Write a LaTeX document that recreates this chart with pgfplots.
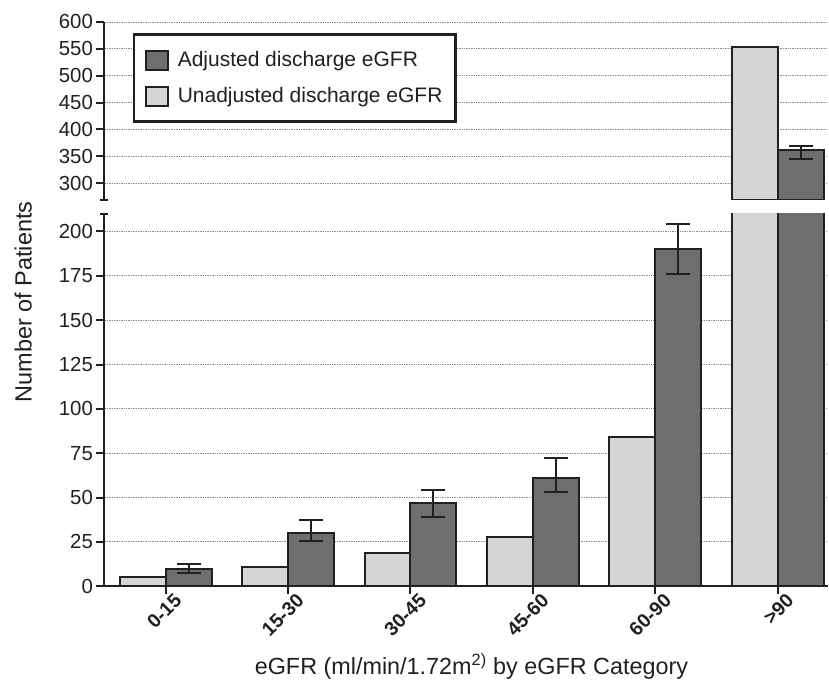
\documentclass[border=0pt]{standalone}
\usepackage{fontspec}
\setmainfont{Liberation Sans}
\usepackage{pgfplots}
\pgfplotsset{compat=1.18}

\definecolor{ink}{HTML}{231F20}
\definecolor{lightbar}{HTML}{D3D4D6}
\definecolor{darkbar}{HTML}{6D6E70}
\definecolor{gridgray}{HTML}{8A8A8A}

% unadjusted discharge eGFR counts per category
\pgfplotstableread{
x y
0 5
1 11
2 19
3 28
4 84
5 553
}\unadjusted

% adjusted discharge eGFR counts with asymmetric error ranges
\pgfplotstableread{
x y ep em
0 10 2.3 2.5
1 30 7.5 4.2
2 47 7 8
3 61 11.5 8
4 190 14 14
5 361 8.5 16
}\adjusted

\pgfplotsset{
  brokenbase/.style={
    scale only axis,
    width=724.5pt,
    xmin=-0.5, xmax=5.41,
    ybar=0pt, bar width=46pt,
    axis y line*=left,
    axis line style={ink, line width=2pt, -},
    every tick/.style={ink, line width=2pt},
    major tick length=8pt,
    tick align=outside,
    ymajorgrids,
    grid style={gridgray, line width=0.9pt, dash pattern=on 1.4pt off 1pt},
    yticklabel style={font=\fontsize{20.4}{23}\selectfont, text=ink},
    /pgf/number format/assume math mode=true,
  },
  lightstyle/.style={fill=lightbar, draw=ink, line width=2pt},
  darkstyle/.style={fill=darkbar, draw=ink, line width=2pt,
    error bars/y dir=both, error bars/y explicit,
    error bars/error bar style={ink, line width=2pt},
    error bars/error mark options={rotate=90, mark size=12pt, line width=2pt, ink}},
}

\begin{document}
\begin{tikzpicture}
% lower part of the broken axis
\begin{axis}[brokenbase, name=lower,
  height=373pt, ymin=0, ymax=210,
  ytick={0,25,...,200},
  axis x line*=bottom,
  xtick={0,...,5},
  xticklabels={0-15,15-30,30-45,45-60,60-90,>90},
  xticklabel style={rotate=45, anchor=east, text=ink, xshift=10pt, yshift=-11pt,
    font=\bfseries\fontsize{19.5}{22}\selectfont},
]
\addplot[lightstyle] table[x=x, y=y] {\unadjusted};
\addplot[darkstyle] table[x=x, y=y, y error plus=ep, y error minus=em] {\adjusted};
\end{axis}

% upper part of the broken axis: only the >90 group reaches it
\begin{axis}[brokenbase, name=upper, at={(0,387pt)}, anchor=south west,
  height=178pt, ymin=269, ymax=600,
  ytick={300,350,...,600},
  axis x line=none,
  reverse legend,
  legend cell align=left,
  legend image code/.code={%
    \draw[line width=2pt] (0pt,-9.5pt) rectangle (22pt,9.5pt);
    \path[draw=none, fill=none] (0pt,0pt) -- (30pt,0pt);},
  legend style={at={(axis description cs:0.0389,0.9365)}, anchor=north west,
    draw=ink, line width=2.7pt, fill=white, text=ink,
    font=\fontsize{21}{24}\selectfont,
    inner xsep=11pt, inner ysep=15pt, row sep=15pt},
]
\addplot[skip coords between index={0}{5}, lightstyle] table[x=x, y=y] {\unadjusted};
\addlegendentry{Unadjusted discharge eGFR\hspace{20pt}}
\addplot[skip coords between index={0}{5}, darkstyle] table[x=x, y=y, y error plus=ep, y error minus=em] {\adjusted};
\addlegendentry{Adjusted discharge eGFR}
\end{axis}

% break caps on the y axis
\draw[ink, line width=2pt] ([xshift=-4pt]upper.south west) -- ([xshift=4pt]upper.south west);
\draw[ink, line width=2pt] ([xshift=-4pt]lower.north west) -- ([xshift=4pt]lower.north west);

% axis titles
\node[rotate=90, anchor=base, text=ink, font=\fontsize{23.5}{26}\selectfont]
  at (-72.8pt,284.7pt) {Number of Patients};
\node[anchor=base, text=ink, font=\fontsize{23.4}{26}\selectfont]
  at (367.5pt,-88pt) {eGFR (ml/min/1.72m\textsuperscript{2)} by eGFR Category};

\path[use as bounding box] (-104.5pt,-104pt) rectangle (724.5pt,587pt);
\end{tikzpicture}
\end{document}
